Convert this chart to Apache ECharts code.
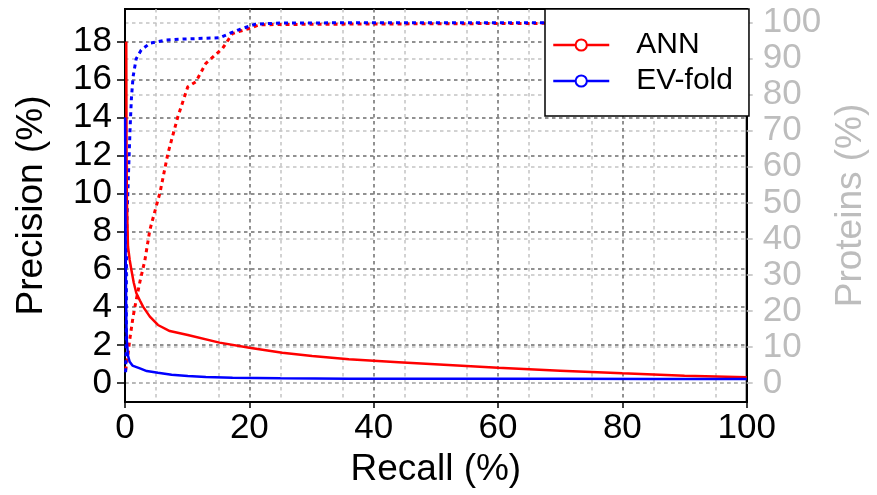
<!DOCTYPE html>
<html>
<head>
<meta charset="utf-8">
<script src="https://cdn.jsdelivr.net/npm/echarts@6/dist/echarts.min.js"></script>
<style>
  html, body { margin: 0; padding: 0; background: #fff; }
  #chart { width: 877px; height: 495px; }
</style>
</head>
<body>
<div id="chart"></div>
<script>
// Precision (left axis) and share of proteins (right axis) against recall, in percent.
const annPrecRecall = [0.2, 0.25, 0.3, 0.48, 0.75, 1.03, 1.4, 1.83, 2.4, 2.9, 4, 5.3, 7.2, 10.1, 15.2, 20, 25.3, 30.1, 36, 44, 52, 60, 70, 80, 90, 100];
const annPrecision   = [18, 12, 9.6, 7.2, 6.5, 5.96, 5.3, 4.73, 4.35, 4.03, 3.5, 3.06, 2.74, 2.53, 2.13, 1.86, 1.6, 1.42, 1.25, 1.1, 0.95, 0.8, 0.65, 0.51, 0.39, 0.3];

const evPrecRecall = [0.02, 0.1, 0.2, 0.3, 0.48, 0.75, 1.2, 2.4, 3.5, 5.3, 7.5, 10.1, 13, 17.3, 25, 36, 50, 70, 85, 100];
const evPrecision  = [14, 7, 3.5, 2.2, 1.45, 1.12, 0.92, 0.77, 0.63, 0.54, 0.44, 0.37, 0.32, 0.28, 0.25, 0.23, 0.22, 0.22, 0.21, 0.21];

const annProtRecall = [0.1, 0.5, 0.75, 1.3, 1.8, 2.4, 3.2, 4, 5.3, 5.6, 6.9, 8.5, 10.1, 11.4, 13, 15.7, 17.3, 20, 21.6, 25, 35, 50, 65, 80, 100];
const annProteins   = [3.5, 8.2, 11.9, 18.4, 23, 28.1, 34.1, 42.5, 50.8, 52.6, 63.7, 73.9, 82.2, 83.6, 88.7, 92.9, 97, 98.4, 99.4, 99.5, 99.6, 99.7, 99.8, 99.9, 100];

const evProtRecall = [0.1, 0.2, 0.22, 0.3, 0.5, 0.7, 0.85, 1.03, 1.3, 1.8, 2.6, 4, 6.6, 9.8, 15.2, 16.8, 18.4, 21, 25, 40, 60, 80, 100];
const evProteins   = [3, 10, 30, 45, 55, 65, 72, 79, 85, 90, 92.4, 94.3, 95.2, 95.5, 95.8, 97, 98.1, 99.6, 99.9, 100, 100, 100, 100];

const xTickLabels = [0, 20, 40, 60, 80, 100];
const leftTickLabels = [0, 2, 4, 6, 8, 10, 12, 14, 16, 18];
const rightTickLabels = [0, 10, 20, 30, 40, 50, 60, 70, 80, 90, 100];

const pairs = (xs, ys) => xs.map((x, i) => [x, ys[i]]);

const FONT = "'Liberation Sans', Arial, sans-serif";
const RED = '#ff0000';
const BLUE = '#0000ff';
const DARK_GRID = '#6e6e6e';
const LIGHT_GRID = '#c4c4c4';
const GREY_TEXT = '#bdbdbd';

const chart = echarts.init(document.getElementById('chart'), null, { renderer: 'canvas' });

chart.setOption({
  animation: false,
  backgroundColor: '#fff',
  grid: {
    left: 125, right: 128, top: 9, bottom: 93,
    show: true, borderColor: '#000', borderWidth: 2, backgroundColor: 'transparent'
  },
  legend: {
    data: ['ANN', 'EV-fold'],
    orient: 'vertical',
    left: 545, top: 9,
    backgroundColor: '#fff',
    borderColor: '#000', borderWidth: 1.5, borderRadius: 0,
    padding: [21, 16, 20, 7],
    itemWidth: 56, itemHeight: 14, itemGap: 6,
    lineStyle: { type: 'solid', width: 2.5 },
    textStyle: { fontSize: 30, fontFamily: FONT, color: '#000', padding: [0, 0, 0, 22] }
  },
  xAxis: {
    type: 'value', min: 0, max: 100, interval: 10,
    name: 'Recall (%)', nameLocation: 'middle', nameGap: 44,
    nameTextStyle: { fontSize: 37, fontFamily: FONT, color: '#000' },
    axisLine: { show: true, onZero: false, lineStyle: { color: '#000', width: 2 } },
    axisTick: { show: true, length: 6, customValues: xTickLabels, lineStyle: { color: '#000', width: 1.5 } },
    axisLabel: { customValues: xTickLabels, fontSize: 35, fontFamily: FONT, color: '#000', margin: 9 },
    splitLine: { show: true, lineStyle: { color: DARK_GRID, width: 1.5, type: [3.5, 3.5] } },
    minorTick: { show: false, splitNumber: 2 },
    minorSplitLine: { show: true, lineStyle: { color: LIGHT_GRID, width: 1.5, type: [3.5, 3.5] } }
  },
  yAxis: [
    {
      type: 'value', position: 'left', min: -1, max: 19.72, splitNumber: 10,
      name: 'Precision (%)', nameLocation: 'middle', nameGap: 75, nameRotate: 90,
      nameTextStyle: { fontSize: 37, fontFamily: FONT, color: '#000' },
      axisLine: { show: true, onZero: false, lineStyle: { color: '#000', width: 2 } },
      axisTick: { show: true, length: 8, customValues: leftTickLabels, lineStyle: { color: '#000', width: 1.5 } },
      axisLabel: { customValues: leftTickLabels, fontSize: 35, fontFamily: FONT, color: '#000', margin: 13 },
      splitLine: { show: true, lineStyle: { color: DARK_GRID, width: 1.5, type: [3.5, 3.5] } }
    },
    {
      type: 'value', position: 'right', min: -5.27, max: 103.8, splitNumber: 10,
      name: 'Proteins (%)', nameLocation: 'middle', nameGap: 84, nameRotate: 90,
      nameTextStyle: { fontSize: 37, fontFamily: FONT, color: GREY_TEXT },
      axisLine: { show: true, onZero: false, lineStyle: { color: '#000', width: 2 } },
      axisTick: { show: true, length: 6, customValues: rightTickLabels, lineStyle: { color: GREY_TEXT, width: 1.5 } },
      axisLabel: { customValues: rightTickLabels, fontSize: 35, fontFamily: FONT, color: GREY_TEXT, margin: 16 },
      splitLine: { show: true, lineStyle: { color: LIGHT_GRID, width: 1.5, type: [3.5, 3.5] } }
    }
  ],
  series: [
    {
      name: 'ANN', type: 'line', yAxisIndex: 0, data: pairs(annPrecRecall, annPrecision),
      symbol: 'emptyCircle', symbolSize: 11, showSymbol: false, z: 4,
      lineStyle: { color: RED, width: 2.5, type: 'solid' }, itemStyle: { color: RED }
    },
    {
      name: 'EV-fold', type: 'line', yAxisIndex: 0, data: pairs(evPrecRecall, evPrecision),
      symbol: 'emptyCircle', symbolSize: 11, showSymbol: false, z: 5,
      lineStyle: { color: BLUE, width: 2.5, type: 'solid' }, itemStyle: { color: BLUE }
    },
    {
      name: 'ANN', type: 'line', yAxisIndex: 1, data: pairs(annProtRecall, annProteins),
      symbol: 'emptyCircle', symbolSize: 11, showSymbol: false, z: 2,
      lineStyle: { color: RED, width: 3, type: [4, 4] }, itemStyle: { color: RED }
    },
    {
      name: 'EV-fold', type: 'line', yAxisIndex: 1, data: pairs(evProtRecall, evProteins),
      symbol: 'emptyCircle', symbolSize: 11, showSymbol: false, z: 3,
      lineStyle: { color: BLUE, width: 3, type: [4, 4] }, itemStyle: { color: BLUE }
    }
  ]
});
</script>
</body>
</html>
